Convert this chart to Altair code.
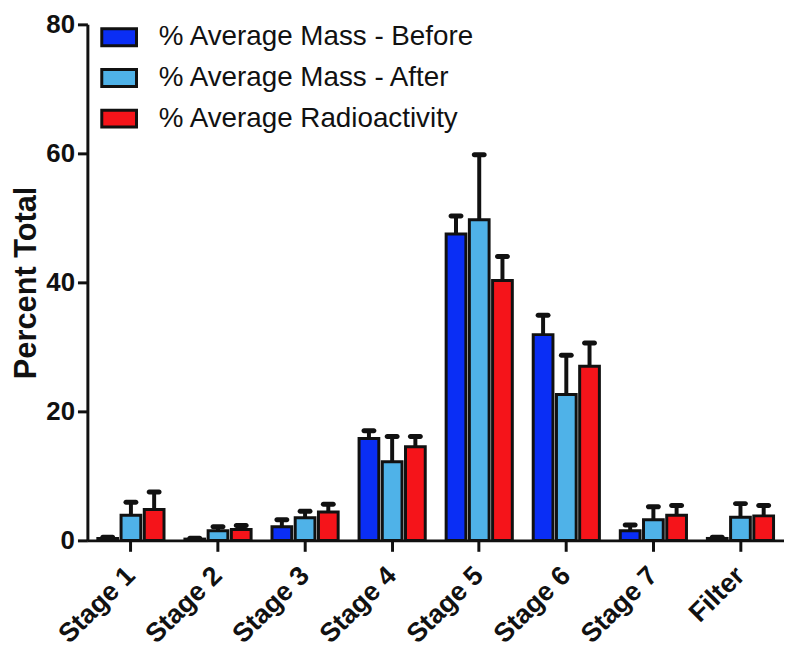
import altair as alt
import pandas as pd

stages = ["Stage 1", "Stage 2", "Stage 3", "Stage 4", "Stage 5", "Stage 6", "Stage 7", "Filter"]
series = ["% Average Mass - Before", "% Average Mass - After", "% Average Radioactivity"]
colors = ["#0A2EF5", "#4FB2E8", "#F5141A"]

before = [0.3, 0.2, 2.1, 15.8, 47.5, 31.9, 1.5, 0.3]
before_err = [0.2, 0.15, 1.1, 1.2, 2.8, 3.0, 0.9, 0.2]
after = [3.9, 1.5, 3.5, 12.2, 49.7, 22.6, 3.2, 3.6]
after_err = [2.0, 0.6, 1.0, 3.9, 10.1, 6.1, 2.0, 2.1]
radio = [4.8, 1.7, 4.4, 14.5, 40.3, 27.0, 3.9, 3.8]
radio_err = [2.7, 0.6, 1.2, 1.6, 3.7, 3.6, 1.5, 1.6]

rows = []
for vals, errs, name in [(before, before_err, series[0]),
                         (after, after_err, series[1]),
                         (radio, radio_err, series[2])]:
    for st, v, e in zip(stages, vals, errs):
        rows.append({"Stage": st, "Series": name, "Value": v, "Top": v + e})
df = pd.DataFrame(rows)

FONT = "Liberation Sans"
INK = "#111111"

x_enc = alt.X("Stage:N", sort=stages,
              scale=alt.Scale(paddingInner=0.24, paddingOuter=0.12),
              axis=alt.Axis(title=None, labelAngle=-45, labelAlign="right",
                            labelBaseline="middle", labelFontSize=27,
                            labelFontWeight="bold", labelFont=FONT,
                            labelColor=INK, tickSize=11, tickWidth=3,
                            tickColor=INK, domainWidth=3,
                            domainColor=INK, labelPadding=20))
xo_enc = alt.XOffset("Series:N", sort=series,
                     scale=alt.Scale(paddingInner=0.15, paddingOuter=0))
y_scale = alt.Scale(domain=[0, 80], nice=False)

bars = alt.Chart(df).mark_bar(stroke=INK, strokeWidth=3).encode(
    x=x_enc,
    xOffset=xo_enc,
    y=alt.Y("Value:Q", scale=y_scale,
            axis=alt.Axis(title="Percent Total", values=[0, 20, 40, 60, 80],
                          grid=False, labelFontSize=26, labelFontWeight="bold",
                          labelFont=FONT, labelColor=INK, tickSize=10,
                          tickWidth=3, tickColor=INK, domainWidth=3,
                          domainColor=INK, titleFontSize=31,
                          titleFont=FONT, titleFontWeight="bold",
                          titleColor=INK, titlePadding=3, labelPadding=3)),
    color=alt.Color("Series:N", sort=series,
                    scale=alt.Scale(domain=series, range=colors),
                    legend=alt.Legend(title=None, orient="none", legendX=13,
                                      legendY=-6, padding=0,
                                      symbolType="M-1,-0.486L1,-0.486L1,0.486L-1,0.486Z",
                                      symbolSize=1225, symbolStrokeColor=INK,
                                      symbolStrokeWidth=3, symbolOpacity=1,
                                      labelFontSize=28, labelFont=FONT,
                                      labelColor=INK, labelOffset=21,
                                      rowPadding=7, labelLimit=500)),
)

err_lines = alt.Chart(df).mark_rule(color=INK, strokeWidth=4).encode(
    x=alt.X("Stage:N", sort=stages),
    xOffset=alt.XOffset("Series:N", sort=series),
    y=alt.Y("Value:Q", scale=y_scale),
    y2="Top:Q",
)

caps = alt.Chart(df).mark_tick(color=INK, thickness=5, size=15,
                               cornerRadius=2.5, opacity=1).encode(
    x=alt.X("Stage:N", sort=stages),
    xOffset=alt.XOffset("Series:N", sort=series),
    y=alt.Y("Top:Q", scale=y_scale),
)

chart = alt.layer(bars, err_lines, caps).properties(
    width=702, height=520,
    autosize=alt.AutoSizeParams(type="none"),
    padding={"left": 80, "top": 14, "right": 0, "bottom": 112},
).configure_view(stroke=None)

chart.save("out.html", embed_options={"renderer": "svg", "actions": False})
